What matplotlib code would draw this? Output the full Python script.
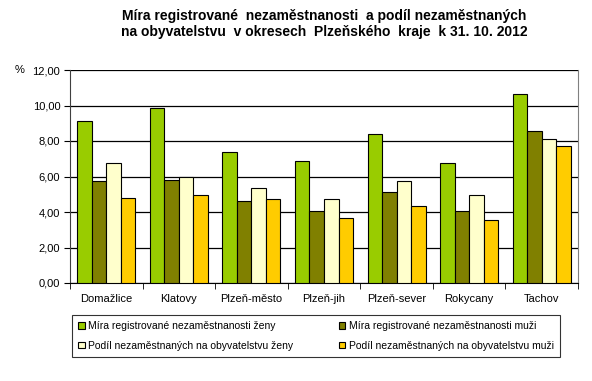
import matplotlib
matplotlib.use("Agg")
import matplotlib.pyplot as plt
import numpy as np

plt.rcParams['font.family'] = ['Liberation Sans', 'DejaVu Sans']

districts = ['Domažlice', 'Klatovy', 'Plzeň-město', 'Plzeň-jih', 'Plzeň-sever', 'Rokycany', 'Tachov']
mira_zeny = [9.11, 9.84, 7.38, 6.87, 8.39, 6.74, 10.63]
mira_muzi = [5.73, 5.78, 4.60, 4.04, 5.11, 4.04, 8.55]
podil_zeny = [6.74, 5.95, 5.33, 4.73, 5.75, 4.94, 8.10]
podil_muzi = [4.77, 4.94, 4.73, 3.66, 4.32, 3.53, 7.70]

series = [mira_zeny, mira_muzi, podil_zeny, podil_muzi]
labels = ['Míra registrované nezaměstnanosti ženy',
          'Míra registrované nezaměstnanosti muži',
          'Podíl nezaměstnaných na obyvatelstvu ženy',
          'Podíl nezaměstnaných na obyvatelstvu muži']
colors = ['#99CC00', '#808000', '#FFFFCC', '#FFCC00']

fig = plt.figure(figsize=(5.92, 3.81), dpi=100)
ax = fig.add_axes([70/592, 1-283/381, 508/592, 213/381])

x = np.arange(len(districts))
w = 0.2
handles = []
for i, (vals, c) in enumerate(zip(series, colors)):
    b = ax.bar(x - 0.3 + i*w, vals, w, color=c, edgecolor='black', linewidth=0.8, zorder=3)
    handles.append(b)

ax.set_xlim(-0.5, len(districts)-0.5)
ax.set_ylim(0, 12)
yt = np.arange(0, 13, 2)
ax.set_yticks(yt)
ax.set_yticklabels([('%.2f' % v).replace('.', ',') for v in yt], fontsize=8)
ax.yaxis.grid(True, color='black', linewidth=0.9, zorder=0)
ax.set_xticks(x)
ax.set_xticklabels(districts, fontsize=8)
ax.tick_params(axis='x', length=0, pad=8)
ax.set_xticks(np.arange(-0.5, len(districts)), minor=True)
ax.tick_params(axis='x', which='minor', length=4, direction='out')
ax.tick_params(axis='y', length=4, direction='out', pad=3)
ax.spines['top'].set_visible(False)
ax.spines['right'].set_color('#808080')
ax.spines['left'].set_color('#404040')
ax.spines['bottom'].set_color('black')

fig.text(15/592, 1-70/381, '%', fontsize=8, ha='left', va='center')
fig.text(324/592, 1-24/381,
         'Míra registrované  nezaměstnanosti  a podíl nezaměstnaných\nna obyvatelstvu  v okresech  Plzeňského  kraje  k 31. 10. 2012',
         fontsize=10, fontweight='bold', ha='center', va='center', linespacing=1.1)

# legend filled row by row: reorder for column-wise filling
order = [0, 2, 1, 3]
leg = fig.legend([handles[k] for k in order], [labels[k] for k in order], loc='lower left',
                 bbox_to_anchor=(67/592, 1-362/381, 498/592, 40/381),
                 mode='expand', ncol=2, fontsize=7.5, frameon=True, fancybox=False,
                 edgecolor='black', handlelength=0.6, handleheight=0.6,
                 handletextpad=0.3, borderpad=0.6, labelspacing=0.9)
leg.get_frame().set_linewidth(0.8)

plt.savefig('out.png', dpi=100)
